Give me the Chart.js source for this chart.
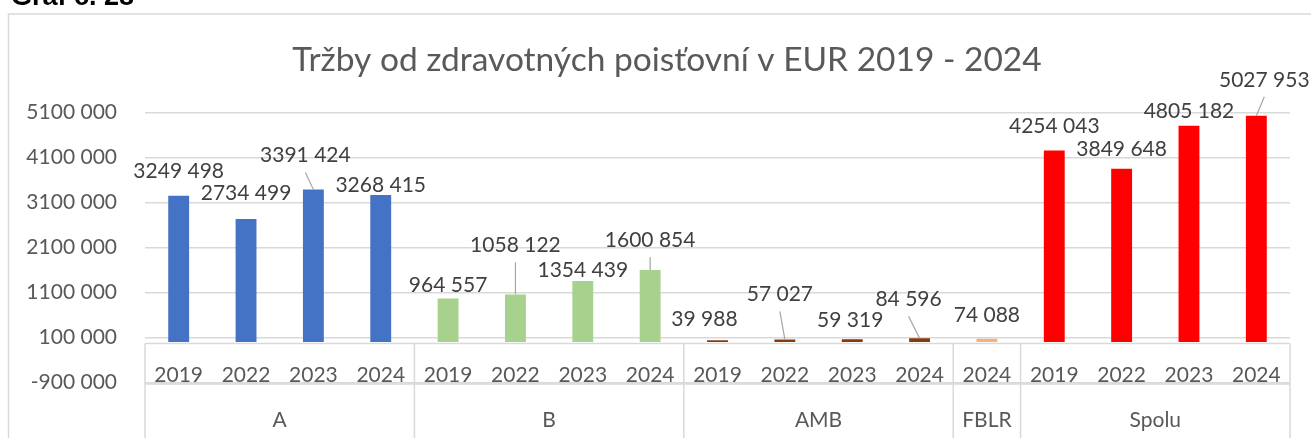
<!DOCTYPE html>
<html>
<head>
<meta charset="utf-8">
<script src="https://cdn.jsdelivr.net/npm/chart.js@4"></script>
<style>
  body { margin: 0; background: #fff; }
  canvas { display: block; }
</style>
</head>
<body>
<canvas id="chart" width="1311" height="438"></canvas>
<script>
// Data
const groups = ['A', 'B', 'AMB', 'FBLR', 'Spolu'];
const groupYears = [
  ['2019', '2022', '2023', '2024'],
  ['2019', '2022', '2023', '2024'],
  ['2019', '2022', '2023', '2024'],
  ['2024'],
  ['2019', '2022', '2023', '2024']
];
const valuesA = [3249498, 2734499, 3391424, 3268415];
const valuesB = [964557, 1058122, 1354439, 1600854];
const valuesAMB = [39988, 57027, 59319, 84596];
const valuesFBLR = [74088];
const valuesSpolu = [4254043, 3849648, 4805182, 5027953];
const groupColors = ['#4472C4', '#A9D18E', '#843C0C', '#F4B183', '#FF0000'];

// label placement (pixels from bar top centre), leader line flag
const labelDx = [0, 0, -8, 0, 0, 0, 0, 0, -13, -5, -2, -11, 0, 0, 0, 0, 8];
const labelDy = [-18, -19, -27, -3, -7, -42, -4, -23, -14, -38, -12, -32, -17, -18, -13, -8, -29];
const leader = [0, 0, 1, 0, 0, 1, 0, 1, 0, 1, 0, 1, 0, 0, 0, 0, 1];

const groupValues = [valuesA, valuesB, valuesAMB, valuesFBLR, valuesSpolu];
let labels = [], values = [], colors = [], groupOf = [];
groupValues.forEach((vals, g) => {
  vals.forEach((v, i) => {
    labels.push(groupYears[g][i]);
    values.push(v);
    colors.push(groupColors[g]);
    groupOf.push(g);
  });
});

function fmt(v) {
  const neg = v < 0;
  v = Math.abs(Math.round(v));
  let s;
  if (v >= 1000) s = Math.floor(v / 1000) + ' ' + String(v % 1000).padStart(3, '0');
  else s = String(v);
  return (neg ? '-' : '') + s;
}

const FONT = 'Lato, "Open Sans", sans-serif';
const GRID = '#d9d9d9';

const extras = {
  id: 'extras',
  beforeDraw(chart) {
    const ctx = chart.ctx;
    ctx.save();
    // outer chart border
    ctx.strokeStyle = GRID;
    ctx.lineWidth = 1.5;
    ctx.strokeRect(8.5, 14, 1310, 440);
    // caption above the frame (cut off at top)
    ctx.fillStyle = '#000';
    ctx.font = 'bold 27px "Liberation Sans", Arial, sans-serif';
    ctx.textBaseline = 'alphabetic';
    ctx.textAlign = 'left';
    ctx.fillText('Graf č. 28', 11, 5);
    // title
    ctx.fillStyle = '#595959';
    ctx.font = '33.5px ' + FONT;
    ctx.textAlign = 'center';
    ctx.fillText('Tržby od zdravotných poisťovní v EUR 2019 - 2024', 667, 71);
    ctx.restore();
  },
  afterDraw(chart) {
    const ctx = chart.ctx;
    const x = chart.scales.x, y = chart.scales.y;
    const area = chart.chartArea;
    const y0 = y.getPixelForValue(0) + 1.5;
    const yRow = y.getPixelForValue(y.min) + 1.5;
    const step = (area.right - area.left) / labels.length;
    ctx.save();
    // category table
    ctx.strokeStyle = GRID;
    ctx.lineWidth = 1.5;
    ctx.beginPath();
    ctx.moveTo(area.left, y0); ctx.lineTo(area.right, y0);
    ctx.moveTo(area.left, yRow); ctx.lineTo(area.right, yRow);
    let idx = 0;
    const bounds = [0];
    groupValues.forEach(vals => { idx += vals.length; bounds.push(idx); });
    bounds.forEach(b => {
      const bx = area.left + b * step;
      ctx.moveTo(bx, y0); ctx.lineTo(bx, 438);
    });
    ctx.stroke();
    ctx.fillStyle = '#595959';
    ctx.font = '21px ' + FONT;
    ctx.textAlign = 'center';
    ctx.textBaseline = 'alphabetic';
    labels.forEach((l, i) => ctx.fillText(l, x.getPixelForValue(i), yRow - 2));
    for (let g = 0; g < groups.length; g++) {
      const cx = area.left + (bounds[g] + bounds[g + 1]) / 2 * step;
      ctx.fillText(groups[g], cx, yRow + 43);
    }
    // data labels
    const meta = chart.getDatasetMeta(0);
    ctx.fillStyle = '#404040';
    values.forEach((v, i) => {
      const bar = meta.data[i];
      const top = y.getPixelForValue(v);
      const lx = bar.x + labelDx[i];
      const ly = top + labelDy[i];
      ctx.fillText(fmt(v), lx, ly);
      if (leader[i]) {
        ctx.strokeStyle = '#a6a6a6';
        ctx.lineWidth = 1.2;
        ctx.beginPath();
        ctx.moveTo(lx, ly + 10);
        ctx.lineTo(bar.x, top);
        ctx.stroke();
      }
    });
    ctx.restore();
  }
};

new Chart(document.getElementById('chart'), {
  type: 'bar',
  data: {
    labels: labels,
    datasets: [{
      data: values,
      backgroundColor: colors,
      barPercentage: 0.31,
      categoryPercentage: 1
    }]
  },
  options: {
    responsive: false,
    animation: false,
    layout: { padding: { left: 8, right: 21, top: 112.5, bottom: 55.5 } },
    plugins: {
      legend: { display: false },
      tooltip: { enabled: false },
      title: { display: false }
    },
    scales: {
      x: { display: false },
      y: {
        min: -900000,
        max: 5100000,
        afterFit(scale) { scale.width = 137; },
        ticks: {
          stepSize: 1000000,
          padding: 28,
          color: '#595959',
          font: { family: FONT, size: 21 },
          callback: v => fmt(v)
        },
        grid: { color: GRID, lineWidth: 1.5, drawTicks: false },
        border: { display: false }
      }
    }
  },
  plugins: [extras]
});
</script>
</body>
</html>
